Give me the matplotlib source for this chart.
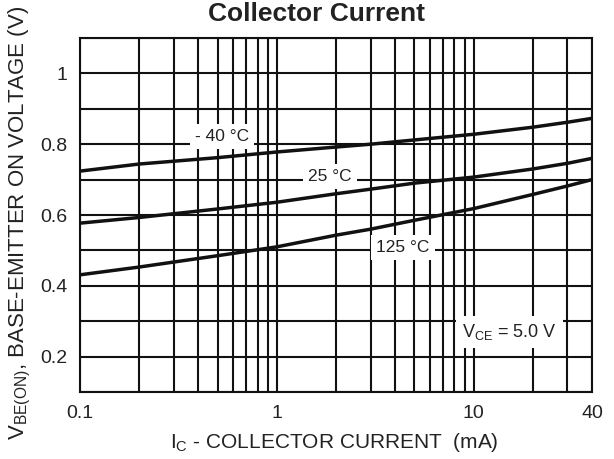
import numpy as np
import matplotlib
matplotlib.use('Agg')
import matplotlib.pyplot as plt
from matplotlib.ticker import NullFormatter

plt.rcParams['font.family'] = ['Liberation Sans', 'DejaVu Sans']
plt.rcParams['mathtext.default'] = 'regular'

# collector current (mA) and base-emitter on voltage (V) per temperature
ic_ma = [0.1, 0.2, 0.5, 1, 2, 3, 5, 10, 20, 30, 40]
vbe_m40 = [0.724, 0.744, 0.762, 0.778, 0.792, 0.800, 0.812, 0.828, 0.848, 0.862, 0.873]
vbe_25 = [0.577, 0.593, 0.617, 0.636, 0.660, 0.673, 0.690, 0.707, 0.730, 0.746, 0.760]
vbe_125 = [0.431, 0.453, 0.485, 0.510, 0.543, 0.560, 0.585, 0.618, 0.658, 0.682, 0.700]

curve_labels = ['- 40 \u00b0C', '25 \u00b0C', '125 \u00b0C']
label_pos = [(0.526, 0.822), (1.86, 0.708), (4.37, 0.508)]

x_major = [0.1, 1, 10, 40]
x_major_labels = ['0.1', '1', '10', '40']
x_minor = [0.2, 0.3, 0.4, 0.5, 0.6, 0.7, 0.8, 0.9,
           2, 3, 4, 5, 6, 7, 8, 9, 20, 30]
y_major = [0.2, 0.4, 0.6, 0.8, 1.0]
y_major_labels = ['0.2', '0.4', '0.6', '0.8', '1']
y_minor = [0.1, 0.3, 0.5, 0.7, 0.9, 1.1]

fig = plt.figure(figsize=(6.14, 4.59), dpi=100)
ax = fig.add_axes([80 / 614, 67 / 459, 512 / 614, 354 / 459])

ink = '#111111'
txt = '#222222'

for v in (vbe_m40, vbe_25, vbe_125):
    ax.plot(ic_ma, v, color=ink, lw=2.5, solid_capstyle='butt', zorder=3)

ax.set_xscale('log')
ax.set_xlim(0.1, 40)
ax.set_ylim(0.1, 1.1)
ax.set_xticks(x_major)
ax.set_xticklabels(x_major_labels)
ax.set_xticks(x_minor, minor=True)
ax.xaxis.set_minor_formatter(NullFormatter())
ax.set_yticks(y_major)
ax.set_yticklabels(y_major_labels)
ax.set_yticks(y_minor, minor=True)

ax.grid(True, which='both', color=ink, lw=1.5)
ax.set_axisbelow(True)
ax.tick_params(which='both', length=0, labelsize=14, labelcolor=txt)
ax.tick_params(axis='x', pad=9)
ax.tick_params(axis='y', pad=9)
for s in ax.spines.values():
    s.set_color(ink)
    s.set_linewidth(1.5)

box = dict(boxstyle='square,pad=0.3', fc='white', ec='none')
for lab, (x, y) in zip(curve_labels, label_pos):
    ax.text(x, y, lab, fontsize=12.5, color=txt, ha='center', va='center',
            bbox=box, zorder=4)

ax.text(15.2, 0.27, 'V$_{CE}$ = 5.0 V', fontsize=13, color=txt,
        ha='center', va='center', bbox=dict(boxstyle='square,pad=0.35', fc='white', ec='none'), zorder=4)

fig.text(317 / 614, 1 - 21 / 459, 'Collector Current', fontsize=19,
         fontweight='bold', ha='center', va='baseline', color=txt)
fig.text(334 / 614, 1 - 443 / 459, 'I$_C$ - COLLECTOR CURRENT  (mA)',
         fontsize=15, ha='center', va='center', color=txt)
fig.text(20 / 614, 1 - 223 / 459, 'V$_{BE(ON)}$, BASE-EMITTER ON VOLTAGE (V)',
         fontsize=16, rotation=90, ha='center', va='center', color=txt)

fig.savefig('out.png', dpi=100)
